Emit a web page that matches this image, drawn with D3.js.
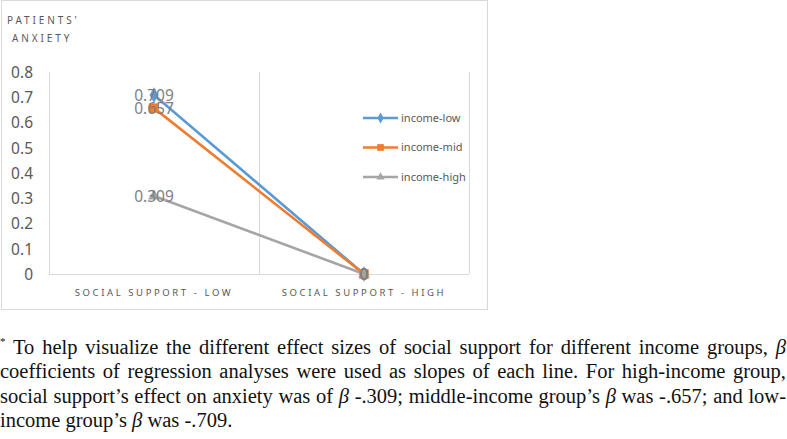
<!DOCTYPE html>
<html><head><meta charset="utf-8">
<script src="https://cdn.jsdelivr.net/npm/d3@7"></script>
<style>
body{margin:0;width:787px;height:439px;background:#fff;position:relative;overflow:hidden;}
#note{position:absolute;left:0;top:335px;width:786px;font-family:"Liberation Serif","Times New Roman",serif;font-size:20.5px;line-height:24.3px;color:#111;}
#note div{text-align:justify;text-align-last:justify;white-space:nowrap;}
#note div.last{text-align-last:left;}
sup{font-size:11px;vertical-align:9px;line-height:0;}
</style></head>
<body>
<svg id="chart" width="787" height="320" style="position:absolute;left:0;top:0"></svg>
<div id="note">
<div><sup>*</sup> To help visualize the different effect sizes of social support for different income groups, <i>β</i></div>
<div>coefficients of regression analyses were used as slopes of each line. For high-income group,</div>
<div>social support’s effect on anxiety was of <i>β</i> -.309; middle-income group’s <i>β</i> was -.657; and low-</div>
<div class="last">income group’s <i>β</i> was -.709.</div>
</div>
<script>
const categories = ["SOCIAL SUPPORT - LOW", "SOCIAL SUPPORT - HIGH"];
const seriesNames = ["income-low", "income-mid", "income-high"];
const incomeLow = [0.709, 0];
const incomeMid = [0.657, 0];
const incomeHigh = [0.309, 0];
const yTicks = [0, 0.1, 0.2, 0.3, 0.4, 0.5, 0.6, 0.7, 0.8];
const yTitle = ["PATIENTS'", "ANXIETY"];

const colors = ["#5b9bd5", "#ed7d31", "#a5a5a5"];
const markers = [d3.symbolDiamond, d3.symbolSquare, d3.symbolTriangle];
const markerSizes = [70, 90, 60];
const seriesVals = [incomeLow, incomeMid, incomeHigh];

const svg = d3.select("#chart");
const font = "'Noto Sans', 'Open Sans', sans-serif";

// outer frame
svg.append("rect").attr("x",1.5).attr("y",0.5).attr("width",486).attr("height",309)
  .attr("fill","#fff").attr("stroke","#d9d9d9");

const pLeft = 49, pRight = 469, pTop = 72, pBottom = 274;
const xb = d3.scaleBand().domain(categories).range([pLeft, pRight]).padding(0);
const x = d => xb(d) + xb.bandwidth()/2;
const y = d3.scaleLinear().domain([0, 0.8]).range([pBottom, pTop]);

// vertical gridlines at category boundaries
const bounds = categories.map(c => xb(c)).concat([pRight]);
svg.append("g").selectAll("line").data(bounds).join("line")
  .attr("x1", d=>d+0.5).attr("x2", d=>d+0.5).attr("y1", pTop).attr("y2", pBottom)
  .attr("stroke","#d9d9d9").attr("stroke-width",1);

// y axis tick labels
const yAxis = d3.axisLeft(y).tickValues(yTicks).tickSize(0).tickPadding(0)
  .tickFormat(d => d === 0 ? "0" : d3.format(".1f")(d));
const gy = svg.append("g").attr("transform", `translate(${33},0)`).call(yAxis);
gy.select(".domain").remove();
gy.selectAll("text").attr("font-family", font).attr("font-size", 15.5).attr("fill","#595959").attr("dy","0.35em");

// x axis
const xAxis = d3.axisBottom(xb).tickSize(0).tickPadding(0);
const gx = svg.append("g").attr("transform", `translate(0,${pBottom})`).call(xAxis);
gx.select(".domain").attr("stroke","#d9d9d9").attr("d", `M${pLeft},0.5H${pRight}`);
gx.selectAll("text").attr("font-family", font).attr("font-size", 9.5).attr("fill","#595959")
  .attr("letter-spacing","2.6px").attr("y", 22).attr("dy", 0);

// y title
svg.append("g").selectAll("text").data(yTitle).join("text")
  .attr("x", (d,i)=> i===0 ? 7 : 12).attr("y", (d,i)=> 24 + i*18)
  .attr("font-family", font).attr("font-size", 10).attr("fill","#595959")
  .attr("letter-spacing","2.9px").text(d=>d);

// lines
const line = d3.line().x((d,i)=>x(categories[i])).y(d=>y(d));
seriesVals.forEach((vals, s) => {
  svg.append("path").datum(vals).attr("d", line).attr("fill","none")
    .attr("stroke", colors[s]).attr("stroke-width", 2.6).attr("stroke-linecap","round");
});
seriesVals.forEach((vals, s) => {
  svg.append("g").selectAll("path").data(vals).join("path")
    .attr("d", d3.symbol().type(markers[s]).size(markerSizes[s]))
    .attr("transform", (d,i)=>`translate(${x(categories[i])},${y(d)})`)
    .attr("fill", colors[s]);
});
// data labels
seriesVals.forEach((vals, s) => {
  svg.append("g").selectAll("text").data(vals).join("text")
    .attr("x", (d,i)=>x(categories[i])).attr("y", d=>y(d)).attr("dy","0.36em")
    .attr("text-anchor","middle").attr("font-family", font).attr("font-size", 15.5)
    .attr("fill","#7f7f7f").text(d => d === 0 ? "0" : String(d));
});

// legend
const lg = svg.append("g").selectAll("g").data(seriesNames).join("g")
  .attr("transform", (d,i)=>`translate(363,${118 + i*29.5})`);
lg.append("line").attr("x1",0).attr("x2",35).attr("stroke",(d,i)=>colors[i]).attr("stroke-width",2.6);
lg.append("path").attr("d",(d,i)=>d3.symbol().type(markers[i]).size(markerSizes[i]*0.5)())
  .attr("transform","translate(17.5,0)").attr("fill",(d,i)=>colors[i]);
lg.append("text").attr("x",38).attr("dy","0.35em").attr("font-family",font).attr("font-size",11)
  .attr("fill","#595959").text(d=>d);
</script>
</body></html>
